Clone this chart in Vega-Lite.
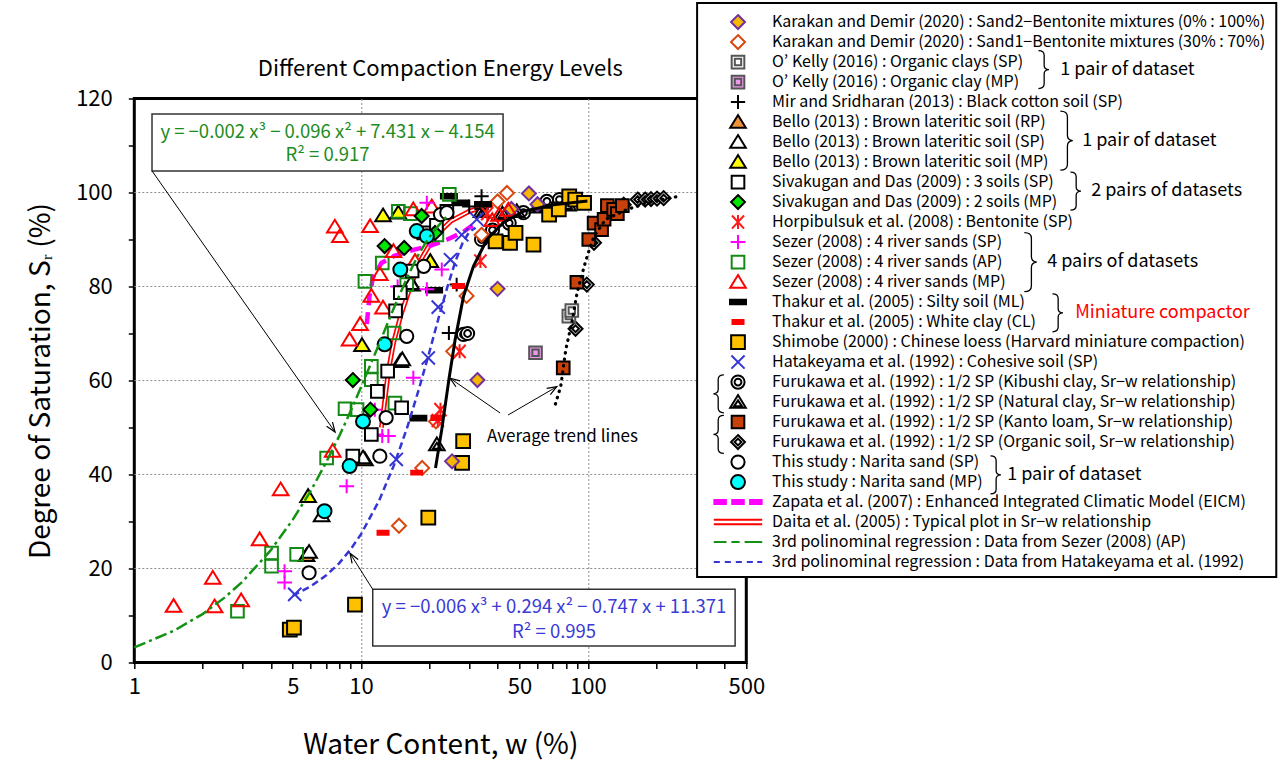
{
  "$schema": "https://vega.github.io/schema/vega-lite/v6.json",
  "width": 612,
  "height": 564,
  "autosize": {"type": "none"},
  "padding": {"left": 134.3, "top": 98.5, "right": 535.7, "bottom": 101.5},
  "title": {"text": "Different Compaction Energy Levels", "fontSize": 22, "fontWeight": "normal", "color": "black", "anchor": "middle", "frame": "group", "offset": 0, "dy": 78.5},
  "config": {
    "font": "Noto Sans CJK JP",
    "view": {"stroke": "black", "strokeWidth": 3},
    "axis": {"domain": false, "ticks": true, "tickOpacity": 1, "tickColor": "#000000", "tickWidth": 1.5, "tickSize": 6, "labelColor": "black", "titleColor": "black", "labelFontSize": 22, "titleFontSize": 28, "titleFontWeight": "normal", "labelFlush": false, "labelOverlap": false, "gridColor": "#8c8c8c", "gridDash": [2, 2], "gridWidth": 1}
  },
  "datasets": {
    "pts": [
      {"s":"FO","w":88.3,"sr":71},{"s":"FO","w":99,"sr":80.4},{"s":"FO","w":106.5,"sr":89.3},{"s":"FO","w":117,"sr":94.1},{"s":"FO","w":144,"sr":97.4},{"s":"FO","w":166,"sr":98.5},{"s":"FO","w":179,"sr":98.5},{"s":"FO","w":190,"sr":98.6},{"s":"FO","w":202,"sr":98.7},{"s":"FO","w":216,"sr":98.8},
      {"s":"FL","w":77.9,"sr":62.7},{"s":"FL","w":89.5,"sr":80.9},{"s":"FL","w":101,"sr":90},{"s":"FL","w":106.6,"sr":93.5},{"s":"FL","w":115,"sr":92.1},{"s":"FL","w":118,"sr":94.3},{"s":"FL","w":122,"sr":97.2},{"s":"FL","w":130,"sr":96.4},{"s":"FL","w":135,"sr":95.5},{"s":"FL","w":142,"sr":97.2},
      {"s":"FK","w":28.3,"sr":69.8},{"s":"FK","w":29.5,"sr":70},{"s":"FK","w":34,"sr":90},{"s":"FK","w":38,"sr":92},{"s":"FK","w":45,"sr":93.5},{"s":"FK","w":52,"sr":95.7},{"s":"FK","w":66,"sr":98.1},{"s":"FK","w":75,"sr":98.5},
      {"s":"FN","w":21.6,"sr":46.4},{"s":"FN","w":34,"sr":96},{"s":"FN","w":42,"sr":95.5},{"s":"FN","w":48.6,"sr":96},{"s":"FN","w":60,"sr":97},{"s":"FN","w":81.8,"sr":97.4},
      {"s":"OS","w":82.5,"sr":73.7},{"s":"OS","w":85,"sr":74.9},
      {"s":"OM","w":58.8,"sr":65.9},
      {"s":"SH","w":4.85,"sr":7},{"s":"SH","w":5.06,"sr":7.4},{"s":"SH","w":9.4,"sr":12.3},{"s":"SH","w":19.8,"sr":30.8},{"s":"SH","w":27.9,"sr":42.5},{"s":"SH","w":28.2,"sr":47.1},{"s":"SH","w":39.2,"sr":89.6},{"s":"SH","w":45.4,"sr":89.3},{"s":"SH","w":48,"sr":91.4},{"s":"SH","w":57.6,"sr":88.9},{"s":"SH","w":67.5,"sr":95.3},{"s":"SH","w":74.5,"sr":96.4},{"s":"SH","w":82.8,"sr":99.2},{"s":"SH","w":88,"sr":98.5},{"s":"SH","w":96.3,"sr":97.8},
      {"s":"K2","w":25.2,"sr":42.8},{"s":"K2","w":32.6,"sr":60.1},{"s":"K2","w":40,"sr":79.5},{"s":"K2","w":55,"sr":99.8},{"s":"K2","w":60,"sr":97.5},{"s":"K2","w":46,"sr":96.5},
      {"s":"K1","w":14.7,"sr":29.1},{"s":"K1","w":18.6,"sr":41.4},{"s":"K1","w":21.4,"sr":51.3},{"s":"K1","w":25.5,"sr":66.2},{"s":"K1","w":29.2,"sr":78},{"s":"K1","w":34,"sr":91},{"s":"K1","w":40,"sr":98.1},{"s":"K1","w":44,"sr":99.9},
      {"s":"MS","w":24.4,"sr":70.1},{"s":"MS","w":26.4,"sr":80.4},{"s":"MS","w":30,"sr":97},{"s":"MS","w":34,"sr":96.5},{"s":"MS","w":34,"sr":99.2},
      {"s":"HB","w":21.8,"sr":51.5},{"s":"HB","w":22.4,"sr":53.8},{"s":"HB","w":27.2,"sr":66.2},{"s":"HB","w":33.6,"sr":85.4},{"s":"HB","w":36,"sr":95.5},
      {"s":"TM","w":17.9,"sr":52},{"s":"TM","w":21,"sr":79.2},{"s":"TM","w":24.4,"sr":99.2},{"s":"TM","w":27.4,"sr":97.8},{"s":"TM","w":34.5,"sr":97.5},
      {"s":"TC","w":12.5,"sr":27.6},{"s":"TC","w":17.6,"sr":40.4},{"s":"TC","w":21.6,"sr":52},{"s":"TC","w":26.9,"sr":80.1},
      {"s":"HK","w":5.1,"sr":14.5},{"s":"HK","w":14.3,"sr":43.2},{"s":"HK","w":19.8,"sr":64.8},{"s":"HK","w":21.9,"sr":75.6},{"s":"HK","w":24.8,"sr":85.7},{"s":"HK","w":27.8,"sr":91},{"s":"HK","w":32.4,"sr":94.3},
      {"s":"BR","w":5.75,"sr":22.8},{"s":"BR","w":10.4,"sr":43.2},{"s":"BR","w":14.9,"sr":64.1},{"s":"BR","w":16.8,"sr":80.4},
      {"s":"BS","w":5.9,"sr":23.5},{"s":"BS","w":6.7,"sr":31.3},{"s":"BS","w":10.2,"sr":43.6},{"s":"BS","w":15.2,"sr":64.5},{"s":"BS","w":16.6,"sr":80.7},
      {"s":"BM","w":5.84,"sr":35.4},{"s":"BM","w":10.1,"sr":67.5},{"s":"BM","w":12.5,"sr":95.1},{"s":"BM","w":14.6,"sr":95.7},{"s":"BM","w":20.2,"sr":85.4},
      {"s":"ZA","w":2.85,"sr":10.9},{"s":"ZA","w":4.03,"sr":23.3},{"s":"ZA","w":4.03,"sr":20.5},{"s":"ZA","w":5.2,"sr":23},{"s":"ZA","w":7.05,"sr":43.5},{"s":"ZA","w":8.5,"sr":54},{"s":"ZA","w":9.6,"sr":53.8},{"s":"ZA","w":11.1,"sr":60.2},{"s":"ZA","w":11.1,"sr":63},{"s":"ZA","w":14.1,"sr":55.2},{"s":"ZA","w":14,"sr":70.1},{"s":"ZA","w":10.4,"sr":81.1},{"s":"ZA","w":12.4,"sr":85},{"s":"ZA","w":15.9,"sr":80.4},{"s":"ZA","w":14.6,"sr":96},{"s":"ZA","w":16.5,"sr":95.5},{"s":"ZA","w":21.6,"sr":91},{"s":"ZA","w":24.5,"sr":99.6},
      {"s":"ZM","w":1.49,"sr":12},{"s":"ZM","w":2.22,"sr":18},{"s":"ZM","w":2.26,"sr":11.9},{"s":"ZM","w":2.96,"sr":13.2},{"s":"ZM","w":3.57,"sr":26.2},{"s":"ZM","w":4.42,"sr":36.8},{"s":"ZM","w":7.5,"sr":45},{"s":"ZM","w":8.9,"sr":68.7},{"s":"ZM","w":9.9,"sr":72},{"s":"ZM","w":11.1,"sr":78},{"s":"ZM","w":12.5,"sr":75.5},{"s":"ZM","w":12.1,"sr":82.6},{"s":"ZM","w":7.66,"sr":92.7},{"s":"ZM","w":8.07,"sr":90.7},{"s":"ZM","w":10.96,"sr":92.8},{"s":"ZM","w":13.9,"sr":87.5},{"s":"ZM","w":17.3,"sr":85.4},{"s":"ZM","w":17,"sr":96.4},{"s":"ZM","w":20.5,"sr":97},{"s":"ZM","w":37.9,"sr":94.1},{"s":"ZM","w":40.6,"sr":95.2},{"s":"ZM","w":44.6,"sr":96.3},
      {"s":"ZS","w":4.6,"sr":19.4},{"s":"ZS","w":4.6,"sr":17},{"s":"ZS","w":8.64,"sr":37.5},{"s":"ZS","w":11.7,"sr":48.5},{"s":"ZS","w":12.4,"sr":48.2},{"s":"ZS","w":13.2,"sr":48.2},{"s":"ZS","w":11.5,"sr":53.8},{"s":"ZS","w":17,"sr":60.6},{"s":"ZS","w":14.5,"sr":80},{"s":"ZS","w":19.5,"sr":79.4},{"s":"ZS","w":22.7,"sr":83.6},{"s":"ZS","w":19.5,"sr":97.8},
      {"s":"SS","w":9.2,"sr":43.9},{"s":"SS","w":11.1,"sr":48.5},{"s":"SS","w":11.8,"sr":57.7},{"s":"SS","w":13.1,"sr":62},{"s":"SS","w":15.1,"sr":54.2},{"s":"SS","w":14.2,"sr":74.8},{"s":"SS","w":14.9,"sr":78.7},{"s":"SS","w":16.8,"sr":83.3},{"s":"SS","w":18.9,"sr":91.4},{"s":"SS","w":21.5,"sr":93},{"s":"SS","w":23.9,"sr":96},
      {"s":"SM","w":9.2,"sr":60.1},{"s":"SM","w":11,"sr":53.8},{"s":"SM","w":12.7,"sr":88.6},{"s":"SM","w":15.5,"sr":88.2},{"s":"SM","w":18.5,"sr":95},{"s":"SM","w":21.2,"sr":91.4},
      {"s":"NS","w":5.9,"sr":19.1},{"s":"NS","w":12.1,"sr":43.9},{"s":"NS","w":12.9,"sr":52.1},{"s":"NS","w":15.9,"sr":69.4},{"s":"NS","w":18.9,"sr":84.3},{"s":"NS","w":22.4,"sr":95.3},{"s":"NS","w":23.9,"sr":95.7},
      {"s":"NM","w":6.9,"sr":32.2},{"s":"NM","w":8.9,"sr":41.8},{"s":"NM","w":10.2,"sr":51.3},{"s":"NM","w":12.7,"sr":67.7},{"s":"NM","w":14.9,"sr":83.6},{"s":"NM","w":17.6,"sr":91.8},{"s":"NM","w":19.5,"sr":90.7}
    ],
    "lns": [
      {"s":"ZP","w":10.6,"sr":72},{"s":"ZP","w":10.9,"sr":78},{"s":"ZP","w":11.3,"sr":82},{"s":"ZP","w":12.3,"sr":85},{"s":"ZP","w":14,"sr":86.5},{"s":"ZP","w":17,"sr":87.8},{"s":"ZP","w":20,"sr":88.6},{"s":"ZP","w":24,"sr":90},{"s":"ZP","w":28,"sr":91.5},{"s":"ZP","w":31,"sr":93},
      {"s":"DA","w":12.3,"sr":50},{"s":"DA","w":12.6,"sr":54},{"s":"DA","w":13.2,"sr":62},{"s":"DA","w":13.9,"sr":68},{"s":"DA","w":15,"sr":74},{"s":"DA","w":16.5,"sr":80},{"s":"DA","w":18.5,"sr":86},{"s":"DA","w":21,"sr":90.5},{"s":"DA","w":25,"sr":94},{"s":"DA","w":30,"sr":96},{"s":"DA","w":38,"sr":97.5},
      {"s":"RG","w":1,"sr":3.2},{"s":"RG","w":1.5,"sr":6.8},{"s":"RG","w":2,"sr":10.3},{"s":"RG","w":2.5,"sr":13.8},{"s":"RG","w":3,"sr":17.2},{"s":"RG","w":4,"sr":23.9},{"s":"RG","w":5,"sr":30.4},{"s":"RG","w":6,"sr":36.5},{"s":"RG","w":7,"sr":42.5},{"s":"RG","w":8,"sr":48.1},{"s":"RG","w":9,"sr":53.5},{"s":"RG","w":10,"sr":58.6},{"s":"RG","w":12,"sr":67.7},{"s":"RG","w":14,"sr":75.6},{"s":"RG","w":16,"sr":82},{"s":"RG","w":18,"sr":87},{"s":"RG","w":20,"sr":90.5},{"s":"RG","w":22,"sr":93},{"s":"RG","w":24,"sr":95},
      {"s":"RB","w":5,"sr":14.2},{"s":"RB","w":6,"sr":16.2},{"s":"RB","w":7,"sr":18.5},{"s":"RB","w":8,"sr":21.1},{"s":"RB","w":9,"sr":24.1},{"s":"RB","w":10,"sr":27.3},{"s":"RB","w":12,"sr":34.4},{"s":"RB","w":14,"sr":42.1},{"s":"RB","w":16,"sr":50.1},{"s":"RB","w":18,"sr":58.2},{"s":"RB","w":20,"sr":66},{"s":"RB","w":22,"sr":73.4},{"s":"RB","w":24,"sr":79.8},{"s":"RB","w":26,"sr":85.2},{"s":"RB","w":28,"sr":89.2},{"s":"RB","w":30,"sr":91.6},{"s":"RB","w":32,"sr":92.5},
      {"s":"AS","w":21.3,"sr":41.4},{"s":"AS","w":22.7,"sr":49.6},{"s":"AS","w":24.4,"sr":60.2},{"s":"AS","w":26,"sr":68.7},{"s":"AS","w":28.3,"sr":77.9},{"s":"AS","w":31.3,"sr":84.3},{"s":"AS","w":35.9,"sr":90},{"s":"AS","w":42.4,"sr":93.6},{"s":"AS","w":52,"sr":96},{"s":"AS","w":70.7,"sr":97.4},{"s":"AS","w":99.6,"sr":98.2},
      {"s":"AD","w":72,"sr":55},{"s":"AD","w":76,"sr":58.8},{"s":"AD","w":80,"sr":66.6},{"s":"AD","w":85.6,"sr":73},{"s":"AD","w":89.7,"sr":78.7},{"s":"AD","w":96.4,"sr":84.3},{"s":"AD","w":101,"sr":87.5},{"s":"AD","w":106.6,"sr":90.7},{"s":"AD","w":120,"sr":94.3},{"s":"AD","w":149,"sr":96.4},{"s":"AD","w":196,"sr":98.2},{"s":"AD","w":253,"sr":99.2}
    ],
    "ygrid": [
      {"w":1,"w2":303.4,"sr":20},{"w":1,"w2":303.4,"sr":40},{"w":1,"w2":303.4,"sr":60},{"w":1,"w2":303.4,"sr":80},{"w":1,"w2":303.4,"sr":100}
    ],
    "boxes": [
      {"w":1.197,"w2":42.3,"sr":104.6,"sr2":116.7},
      {"w":11.26,"w2":446.3,"sr":3.51,"sr2":15.57}
    ],
    "panel": [
      {"w":303.4,"w2":108690,"sr":18.19,"sr2":140.3}
    ],
    "eqs": [
      {"g":"G","w":7.115,"sr":112.9,"t":"y = −0.002 x³ − 0.096 x² + 7.431 x − 4.154"},
      {"g":"G","w":7.115,"sr":108.0,"t":"R² = 0.917"},
      {"g":"B","w":71.0,"sr":11.87,"t":"y = −0.006 x³ + 0.294 x² − 0.747 x + 11.371"},
      {"g":"B","w":71.0,"sr":6.43,"t":"R² = 0.995"}
    ],
    "arrows": [
      {"w":1.197,"sr":104.6,"w2":7.68,"sr2":49.04},
      {"w":11.26,"sr":15.57,"w2":8.94,"sr2":23.23},
      {"w":41.04,"sr":53.09,"w2":24.7,"sr2":60.47},
      {"w":44.5,"sr":52.66,"w2":73.0,"sr2":58.68}
    ],
    "heads": [
      {"w":7.68,"sr":49.04,"a":145},
      {"w":8.94,"sr":23.23,"a":327.8},
      {"w":24.7,"sr":60.47,"a":304.8},
      {"w":73.0,"sr":58.68,"a":59.8}
    ],
    "notes": [
      {"k":"avg","w":35.96,"sr":47.98,"t":"Average trend lines"},
      {"k":"n","w":12120,"sr":126.15,"t":"1 pair of dataset"},
      {"k":"n","w":15150,"sr":111.04,"t":"1 pair of dataset"},
      {"k":"n","w":16600,"sr":100.28,"t":"2 pairs of datasets"},
      {"k":"n","w":10617,"sr":85.19,"t":"4 pairs of datasets"},
      {"k":"n","w":7071,"sr":39.91,"t":"1 pair of dataset"},
      {"k":"r","w":14110,"sr":74.4,"t":"Miniature compactor"}
    ],
    "braces": [
      {"k":"R2","w":10195,"sr":126.15},
      {"k":"R3","w":12880,"sr":111.04},
      {"k":"R2","w":14110,"sr":100.28},
      {"k":"R3","w":8935,"sr":85.19},
      {"k":"R2","w":11752,"sr":74.4},
      {"k":"L2","w":379.5,"sr":57.17},
      {"k":"L2","w":379.5,"sr":48.53},
      {"k":"R2","w":6260,"sr":39.91}
    ]
  },
  "encoding": {
    "x": {"field": "w", "type": "quantitative",
      "scale": {"type": "log", "domain": [1, 500], "nice": false},
      "axis": {"title": "Water Content, w (%)", "values": [1,2,3,4,5,6,7,8,9,10,20,30,40,50,60,70,80,90,100,200,300,400,500], "format": "d",
        "labelExpr": "indexof([1,5,10,50,100,500], datum.value) >= 0 ? datum.label : ''",
        "gridOpacity": {"condition": {"test": "datum.value == 10 || datum.value == 100", "value": 1}, "value": 0},
        "labelPadding": 8, "titlePadding": 34}},
    "y": {"field": "sr", "type": "quantitative",
      "scale": {"domain": [0, 120], "nice": false},
      "axis": {"title": "Degree of Saturation, Sᵣ (%)", "values": [0,10,20,30,40,50,60,70,80,90,100,110,120],
        "labelExpr": "datum.value % 20 == 0 ? datum.label : ''",
        "grid": false,
        "labelPadding": 16, "titlePadding": 20}}
  },
  "layer": [
    {"data": {"name": "ygrid"}, "mark": {"type": "rule", "color": "#8c8c8c", "strokeWidth": 1, "strokeDash": [2, 2]},
     "encoding": {"x2": {"field": "w2"}}},
    {"data": {"name": "lns"}, "transform": [{"filter": "datum.s == 'DA'"}], "mark": {"type": "line", "stroke": "#FF0000", "strokeWidth": 5}, "encoding": {}},
    {"data": {"name": "lns"}, "transform": [{"filter": "datum.s == 'DA'"}], "mark": {"type": "line", "stroke": "#FFFFFF", "strokeWidth": 1.6}, "encoding": {}},
    {"data": {"name": "lns"}, "transform": [{"filter": "datum.s == 'ZP'"}], "mark": {"type": "line", "stroke": "#FF00FF", "strokeWidth": 4.5, "strokeDash": [12, 7]}, "encoding": {}},
    {"data": {"name": "pts"},
     "mark": {"type": "point", "size": 121, "strokeWidth": 2, "opacity": 1},
     "encoding": {
       "stroke": {"field": "s", "type": "nominal",
         "scale": {"domain": ["K2","K1","OS","OM","MS","BR","BS","BM","SS","SM","HB","ZS","ZA","ZM","TM","TC","SH","HK","FK","FN","FL","FO","NS","NM","ZP","DA","RG","RB"],
           "range": ["#7030A0","#D9480F","#555555","#555555","#000000","#000000","#000000","#000000","#000000","#000000","#FF1A1A","#FF00FF","#138A13","#FF0000","#000000","#FF0000","#000000","#3535D5","#000000","#000000","#000000","#000000","#000000","#000000","#FF00FF","#FF0000","#139213","#3535D5"]},
         "legend": {"orient": "none", "legendX": 562.7, "legendY": -93.2, "title": null, "direction": "vertical",
           "labelExpr": "{'K2':'Karakan and Demir (2020) : Sand2−Bentonite mixtures (0% : 100%)','K1':'Karakan and Demir (2020) : Sand1−Bentonite mixtures (30% : 70%)','OS':'O’ Kelly (2016) : Organic clays (SP)','OM':'O’ Kelly (2016) : Organic clay (MP)','MS':'Mir and Sridharan (2013) : Black cotton soil (SP)','BR':'Bello (2013) : Brown lateritic soil (RP)','BS':'Bello (2013) : Brown lateritic soil (SP)','BM':'Bello (2013) : Brown lateritic soil (MP)','SS':'Sivakugan and Das (2009) : 3 soils (SP)','SM':'Sivakugan and Das (2009) : 2 soils (MP)','HB':'Horpibulsuk et al. (2008) : Bentonite (SP)','ZS':'Sezer (2008) : 4 river sands (SP)','ZA':'Sezer (2008) : 4 river sands (AP)','ZM':'Sezer (2008) : 4 river sands (MP)','TM':'Thakur et al. (2005) : Silty soil (ML)','TC':'Thakur et al. (2005) : White clay (CL)','SH':'Shimobe (2000) : Chinese loess (Harvard miniature compaction)','HK':'Hatakeyama et al. (1992) : Cohesive soil (SP)','FK':'Furukawa et al. (1992) : 1/2 SP (Kibushi clay, Sr−w relationship)','FN':'Furukawa et al. (1992) : 1/2 SP (Natural clay, Sr−w relationship)','FL':'Furukawa et al. (1992) : 1/2 SP (Kanto loam, Sr−w relationship)','FO':'Furukawa et al. (1992) : 1/2 SP (Organic soil, Sr−w relationship)','NS':'This study : Narita sand (SP)','NM':'This study : Narita sand (MP)','ZP':'Zapata et al. (2007) : Enhanced Integrated Climatic Model (EICM)','DA':'Daita et al. (2005) : Typical plot in Sr−w relationship','RG':'3rd polinominal regression : Data from Sezer (2008) (AP)','RB':'3rd polinominal regression : Data from Hatakeyama et al. (1992)'}[datum.value]",
           "labelFontSize": 16, "labelLimit": 900, "labelColor": "black", "padding": 7, "rowPadding": 0, "clipHeight": 19.5,
           "symbolOffset": 26, "labelOffset": 26, "symbolSize": 121, "symbolStrokeWidth": 2,
           "strokeColor": "transparent", "fillColor": "transparent"}},
       "fill": {"field": "s", "type": "nominal",
         "scale": {"domain": ["K2","K1","OS","OM","MS","BR","BS","BM","SS","SM","HB","ZS","ZA","ZM","TM","TC","SH","HK","FK","FN","FL","FO","NS","NM","ZP","DA","RG","RB"],
           "range": ["#F5B800","#FFFFFF","#FFFFFF","#EE99EE","transparent","#F0903A","#FFFFFF","#FFFF00","#FFFFFF","#00E600","transparent","transparent","transparent","transparent","#000000","#FF0000","#FFC000","transparent","#FFFFFF","#FFFFFF","#C8410B","#FFFFFF","#FFFFFF","#00FFFF","#FF00FF","transparent","transparent","transparent"]}},
       "shape": {"field": "s", "type": "nominal",
         "scale": {"domain": ["K2","K1","OS","OM","MS","BR","BS","BM","SS","SM","HB","ZS","ZA","ZM","TM","TC","SH","HK","FK","FN","FL","FO","NS","NM","ZP","DA","RG","RB"],
           "range": [
             "M0,-1.27L1.27,0L0,1.27L-1.27,0Z",
             "M0,-1.27L1.27,0L0,1.27L-1.27,0Z",
             "M-1.15,-1.15L1.15,-1.15L1.15,1.15L-1.15,1.15ZM-0.58,-0.58L0.58,-0.58L0.58,0.58L-0.58,0.58Z",
             "M-1.15,-1.15L1.15,-1.15L1.15,1.15L-1.15,1.15ZM-0.58,-0.58L0.58,-0.58L0.58,0.58L-0.58,0.58Z",
             "M-1.3,0L1.3,0M0,-1.27L0,1.27",
             "M0,-1.27L1.42,1.05L-1.42,1.05Z",
             "M0,-1.27L1.42,1.05L-1.42,1.05Z",
             "M0,-1.27L1.42,1.05L-1.42,1.05Z",
             "M-1.15,-1.15L1.15,-1.15L1.15,1.15L-1.15,1.15Z",
             "M0,-1.27L1.27,0L0,1.27L-1.27,0Z",
             "M-1.1,-1.2L1.1,1.2M-1.1,1.2L1.1,-1.2M0,-1.27L0,1.27",
             "M-1.35,0L1.35,0M0,-1.27L0,1.27",
             "M-1.15,-1.15L1.15,-1.15L1.15,1.15L-1.15,1.15Z",
             "M0,-1.27L1.42,1.05L-1.42,1.05Z",
             "M-1.45,-0.42L1.45,-0.42L1.45,0.42L-1.45,0.42Z",
             "M-1,-0.36L1,-0.36L1,0.36L-1,0.36Z",
             "M-1.25,-1.25L1.25,-1.25L1.25,1.25L-1.25,1.25Z",
             "M-1.2,-1.2L1.2,1.2M-1.2,1.2L1.2,-1.2",
             "M1.2,0A1.2,1.2,0,1,1,-1.2,0A1.2,1.2,0,1,1,1.2,0ZM0.62,0A0.62,0.62,0,1,1,-0.62,0A0.62,0.62,0,1,1,0.62,0Z",
             "M0,-1.27L1.42,1.05L-1.42,1.05ZM0,-0.3L0.72,0.78L-0.72,0.78Z",
             "M-1.15,-1.15L1.15,-1.15L1.15,1.15L-1.15,1.15Z",
             "M0,-1.27L1.27,0L0,1.27L-1.27,0ZM0,-0.62L0.62,0L0,0.62L-0.62,0Z",
             "M1.2,0A1.2,1.2,0,1,1,-1.2,0A1.2,1.2,0,1,1,1.2,0Z",
             "M1.27,0A1.27,1.27,0,1,1,-1.27,0A1.27,1.27,0,1,1,1.27,0Z",
             "M-4.3,-0.36h2.1v0.72h-2.1ZM-1.05,-0.36h2.1v0.72h-2.1ZM2.2,-0.36h2.1v0.72h-2.1Z",
             "M-4.4,-0.42L4.4,-0.42M-4.4,0.42L4.4,0.42",
             "M-4.4,0L-2.1,0M-1.2,0L0.3,0M1.2,0L4.4,0",
             "M-4.4,0L-3.3,0M-2.4,0L-1.3,0M-0.4,0L0.7,0M1.6,0L2.7,0M3.5,0L4.4,0"
           ]}}
     }},
    {"data": {"name": "lns"}, "transform": [{"filter": "datum.s == 'RG'"}], "mark": {"type": "line", "stroke": "#139213", "strokeWidth": 2.5, "strokeDash": [12, 4, 3, 4]}, "encoding": {}},
    {"data": {"name": "lns"}, "transform": [{"filter": "datum.s == 'RB'"}], "mark": {"type": "line", "stroke": "#3535D5", "strokeWidth": 2.5, "strokeDash": [7, 4]}, "encoding": {}},
    {"data": {"name": "lns"}, "transform": [{"filter": "datum.s == 'AS'"}], "mark": {"type": "line", "stroke": "#000000", "strokeWidth": 3}, "encoding": {}},
    {"data": {"name": "lns"}, "transform": [{"filter": "datum.s == 'AD'"}], "mark": {"type": "line", "stroke": "#000000", "strokeWidth": 3.2, "strokeDash": [0.5, 6], "strokeCap": "round"}, "encoding": {}},
    {"data": {"name": "boxes"}, "mark": {"type": "rect", "fill": "white", "stroke": "#333333", "strokeWidth": 1.5},
     "encoding": {"x2": {"field": "w2"}, "y2": {"field": "sr2"}}},
    {"data": {"name": "panel"}, "mark": {"type": "rect", "fill": "white", "stroke": "#000000", "strokeWidth": 2},
     "encoding": {"x2": {"field": "w2"}, "y2": {"field": "sr2"}}},
    {"data": {"name": "eqs"}, "transform": [{"filter": "datum.g == 'G'"}], "mark": {"type": "text", "fontSize": 18.5, "color": "#1E8C1E", "align": "center", "baseline": "middle"},
     "encoding": {"text": {"field": "t"}}},
    {"data": {"name": "eqs"}, "transform": [{"filter": "datum.g == 'B'"}], "mark": {"type": "text", "fontSize": 18.5, "color": "#3A3AD6", "align": "center", "baseline": "middle"},
     "encoding": {"text": {"field": "t"}}},
    {"data": {"name": "arrows"}, "mark": {"type": "rule", "color": "#000000", "strokeWidth": 1},
     "encoding": {"x2": {"field": "w2"}, "y2": {"field": "sr2"}}},
    {"data": {"name": "heads"}, "mark": {"type": "point", "shape": "M-0.6,1.6L0,0L0.6,1.6", "size": 144, "stroke": "#000000", "strokeWidth": 1.2, "filled": false, "opacity": 1},
     "encoding": {"angle": {"field": "a", "type": "quantitative", "scale": null}}},
    {"data": {"name": "notes"}, "transform": [{"filter": "datum.k == 'avg'"}], "mark": {"type": "text", "fontSize": 17, "color": "#000000", "align": "left", "baseline": "middle"},
     "encoding": {"text": {"field": "t"}}},
    {"data": {"name": "notes"}, "transform": [{"filter": "datum.k == 'n'"}], "mark": {"type": "text", "fontSize": 18, "color": "#000000", "align": "left", "baseline": "middle"},
     "encoding": {"text": {"field": "t"}}},
    {"data": {"name": "notes"}, "transform": [{"filter": "datum.k == 'r'"}], "mark": {"type": "text", "fontSize": 18, "color": "#FF0000", "align": "left", "baseline": "middle"},
     "encoding": {"text": {"field": "t"}}},
    {"data": {"name": "braces"}, "transform": [{"filter": "datum.k == 'R2'"}], "mark": {"type": "point", "shape": "M-0.25,-1Q0.05,-1,0.05,-0.75L0.05,-0.22Q0.05,-0.02,0.3,0Q0.05,0.02,0.05,0.22L0.05,0.75Q0.05,1,-0.25,1", "size": 1444, "stroke": "#000000", "strokeWidth": 1.3, "filled": false, "opacity": 1}, "encoding": {}},
    {"data": {"name": "braces"}, "transform": [{"filter": "datum.k == 'R3'"}], "mark": {"type": "point", "shape": "M-0.2,-1Q0.04,-1,0.04,-0.8L0.04,-0.18Q0.04,-0.02,0.22,0Q0.04,0.02,0.04,0.18L0.04,0.8Q0.04,1,-0.2,1", "size": 3481, "stroke": "#000000", "strokeWidth": 1.3, "filled": false, "opacity": 1}, "encoding": {}},
    {"data": {"name": "braces"}, "transform": [{"filter": "datum.k == 'L2'"}], "mark": {"type": "point", "shape": "M0.25,-1Q-0.05,-1,-0.05,-0.75L-0.05,-0.22Q-0.05,-0.02,-0.3,0Q-0.05,0.02,-0.05,0.22L-0.05,0.75Q-0.05,1,0.25,1", "size": 1444, "stroke": "#000000", "strokeWidth": 1.3, "filled": false, "opacity": 1}, "encoding": {}}
  ]
}
